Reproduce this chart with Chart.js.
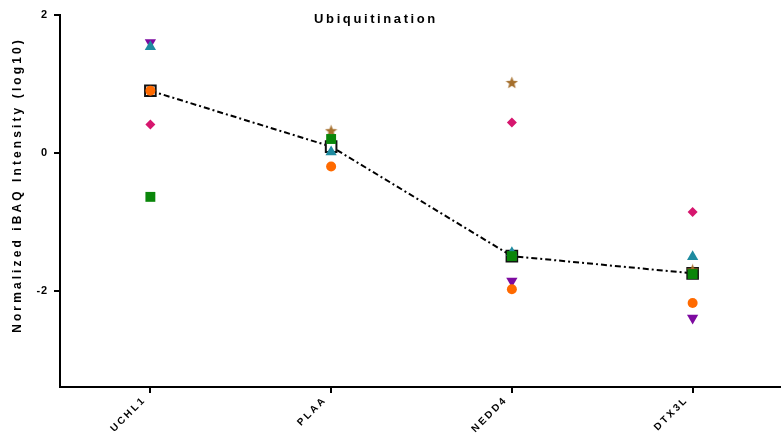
<!DOCTYPE html>
<html><head><meta charset="utf-8">
<script src="https://cdn.jsdelivr.net/npm/chart.js@4/dist/chart.umd.min.js"></script>
<style>html,body{margin:0;padding:0;background:#fff;}canvas{display:block;}</style>
</head><body>
<canvas id="c" width="781" height="443"></canvas>
<script>
const categories = ["UCHL1", "PLAA", "NEDD4", "DTX3L"];
const yTicks = [-2, 0, 2];
const purpleVals = [1.60, 0.09, -1.86, -2.40];
const tealVals   = [1.54, 0.01, -1.45, -1.51];
const orangeVals = [0.90, -0.20, -1.98, -2.18];
const pinkVals   = [0.41, null, 0.44, -0.86];
const greenVals  = [-0.64, 0.20, -1.50, -1.76];
const brownVals  = [null, 0.32, 1.02, -1.70];
const meanVals   = [0.90, 0.09, -1.50, -1.75];
const titleText = "Ubiquitination";
const yTitle = "Normalized iBAQ Intensity (log10)";

function starImage(color, size) {
  const cv = document.createElement('canvas');
  cv.width = size; cv.height = size;
  const g = cv.getContext('2d');
  const cx = size / 2, cy = size / 2 + 0.5, R = size / 2, r = R * 0.42;
  g.beginPath();
  for (let i = 0; i < 10; i++) {
    const a = -Math.PI / 2 + i * Math.PI / 5;
    const rr = i % 2 === 0 ? R : r;
    g.lineTo(cx + rr * Math.cos(a), cy + rr * Math.sin(a));
  }
  g.closePath();
  g.fillStyle = color; g.fill();
  return cv;
}
const star = starImage('#a56f2c', 13);

const LS = '2.2px';
const spacingPlugin = {
  id: 'spacing',
  beforeUpdate(c) { c.ctx.letterSpacing = LS; },
  beforeLayout(c) { c.ctx.letterSpacing = LS; },
  afterLayout(c) {
    // extend the plot area to the right edge, as in the reference
    const x = c.scales.x;
    const R = 783;
    x.right = R; x.width = R - x.left;
    c.chartArea.right = R; c.chartArea.width = R - c.chartArea.left;
    x.configure();
  },
  beforeDraw(c) { c.ctx.letterSpacing = LS; },
  afterDraw(c) {
    const ctx = c.ctx;
    ctx.save();
    ctx.letterSpacing = '2.6px';
    ctx.font = 'bold 13px "Liberation Sans", Arial, sans-serif';
    ctx.fillStyle = '#000';
    ctx.textAlign = 'center';
    ctx.textBaseline = 'middle';
    ctx.fillText(titleText, 376, 19);
    ctx.restore();
  }
};

function patchDraw(s, name, spacing, dx, dy) {
  if (s['_p_' + name]) return;
  const orig = s[name].bind(s);
  s[name] = function (a) {
    const ctx = this.ctx;
    ctx.save();
    ctx.letterSpacing = spacing;
    ctx.translate(dx, dy);
    orig(a);
    ctx.restore();
  };
  s['_p_' + name] = true;
}

function pts(label, data, color, style, radius, extra) {
  return Object.assign({
    label, data, showLine: false,
    pointStyle: style, pointRadius: radius, pointHoverRadius: radius,
    pointBackgroundColor: color, pointBorderColor: color, pointBorderWidth: 0,
    backgroundColor: color, borderColor: color
  }, extra || {});
}

new Chart(document.getElementById('c'), {
  type: 'line',
  data: {
    labels: categories,
    datasets: [
      pts('orange', orangeVals, '#ff6a00', 'circle', 5),
      pts('green', greenVals, '#0a860a', 'rect', 7),
      pts('pink', pinkVals, '#d6166e', 'rectRot', 5),
      pts('teal', tealVals, '#1e8ba0', 'triangle', 6.5),
      pts('brown', brownVals, '#a56f2c', star, 6.5),
      {
        label: 'mean', data: meanVals, showLine: true,
        borderColor: '#000', borderWidth: 2, borderDash: [6, 3, 2, 3],
        pointStyle: 'rect', pointRadius: 7.5, pointHoverRadius: 7.5,
        pointBackgroundColor: '#fff', pointBorderColor: '#111', pointBorderWidth: 2,
        fill: false, tension: 0
      },
      pts('purple', purpleVals, '#7d0aa0', 'triangle', 6.5, { pointRotation: 180 })
    ]
  },
  options: {
    responsive: false,
    animation: false,
    events: [],
    layout: { padding: { top: 15, right: 0, left: 0, bottom: 0 } },
    plugins: { legend: { display: false }, tooltip: { enabled: false }, title: { display: false } },
    scales: {
      x: {
        type: 'category',
        offset: true,
        grid: { display: true, drawOnChartArea: false, drawTicks: true, tickLength: 6, color: '#000', lineWidth: 2, offset: false },
        border: { display: true, color: '#000', width: 2 },
        ticks: {
          color: '#000', maxRotation: 45, minRotation: 45, padding: 6,
          font: { family: '"Liberation Sans", Arial, sans-serif', size: 10, weight: 'bold' }
        },
        afterFit(s) {
          s.height = 56; s.paddingRight = 0; s.paddingLeft = 0;
          patchDraw(s, 'drawLabels', '2.4px', -6, -5);
        }
      },
      y: {
        min: -3.4, max: 2,
        grid: { display: true, drawOnChartArea: false, drawTicks: true, tickLength: 6, color: '#000', lineWidth: 2 },
        border: { display: true, color: '#000', width: 2 },
        afterBuildTicks(s) { s.ticks = yTicks.map(v => ({ value: v })); },
        ticks: {
          color: '#000', padding: 6,
          font: { family: '"Liberation Sans", Arial, sans-serif', size: 11, weight: 'bold' }
        },
        title: {
          display: true, text: yTitle, color: '#000', padding: { top: 10, bottom: 4 },
          font: { family: '"Liberation Sans", Arial, sans-serif', size: 12, weight: 'bold' }
        },
        afterFit(s) {
          s.width = 60;
          patchDraw(s, 'drawLabels', '0.8px', 0, 0);
          patchDraw(s, 'drawTitle', '3.1px', 0, -16);
        }
      }
    }
  },
  plugins: [spacingPlugin]
});
</script>
</body></html>
